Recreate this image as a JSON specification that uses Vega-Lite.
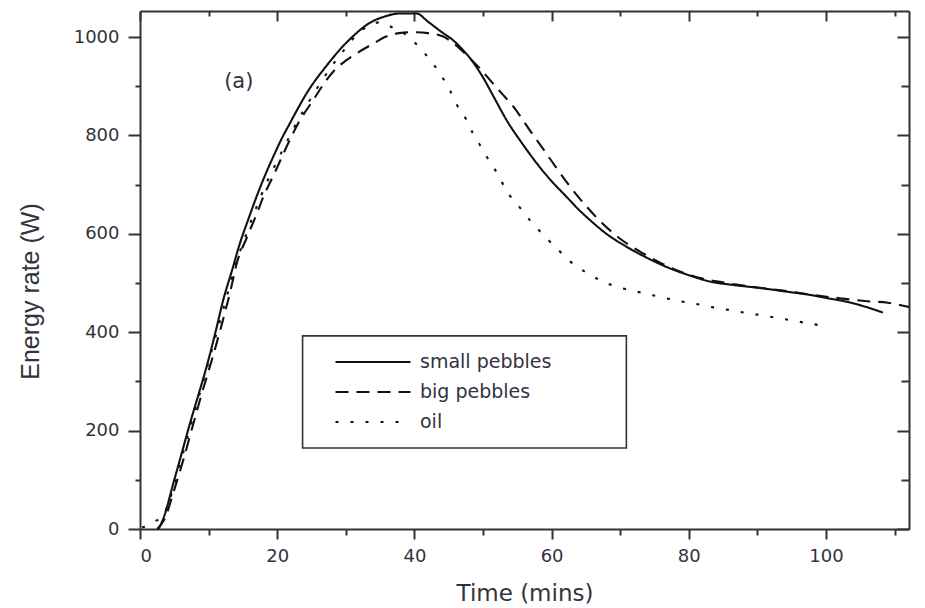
{
  "$schema": "https://vega.github.io/schema/vega-lite/v6.json",
  "width": 769,
  "height": 518,
  "autosize": {"type": "none"},
  "padding": {"left": 140, "top": 11, "right": 16, "bottom": 79},
  "background": "white",
  "config": {
    "view": {"stroke": null},
    "axis": {
      "grid": false,
      "domainColor": "#333333",
      "domainWidth": 2,
      "tickColor": "#333333",
      "tickWidth": 2,
      "labelColor": "#333340",
      "labelFont": "DejaVu Sans",
      "labelFontSize": 18,
      "titleColor": "#333340",
      "titleFontWeight": "normal"
    }
  },
  "datasets": {
    "curves": [
      {"series": "small pebbles", "time": 2.7, "energy": 0},
      {"series": "small pebbles", "time": 3.5, "energy": 25},
      {"series": "small pebbles", "time": 4.86, "energy": 93},
      {"series": "small pebbles", "time": 6, "energy": 150},
      {"series": "small pebbles", "time": 7.29, "energy": 215},
      {"series": "small pebbles", "time": 8.5, "energy": 272},
      {"series": "small pebbles", "time": 9.71, "energy": 330},
      {"series": "small pebbles", "time": 11, "energy": 400},
      {"series": "small pebbles", "time": 12.14, "energy": 466},
      {"series": "small pebbles", "time": 13.4, "energy": 525},
      {"series": "small pebbles", "time": 14.57, "energy": 581},
      {"series": "small pebbles", "time": 15.8, "energy": 630},
      {"series": "small pebbles", "time": 17, "energy": 676},
      {"series": "small pebbles", "time": 18.2, "energy": 718},
      {"series": "small pebbles", "time": 19.43, "energy": 757},
      {"series": "small pebbles", "time": 20.6, "energy": 792},
      {"series": "small pebbles", "time": 21.86, "energy": 825},
      {"series": "small pebbles", "time": 23.1, "energy": 857},
      {"series": "small pebbles", "time": 24.3, "energy": 886},
      {"series": "small pebbles", "time": 25.5, "energy": 911},
      {"series": "small pebbles", "time": 26.7, "energy": 933},
      {"series": "small pebbles", "time": 27.9, "energy": 954},
      {"series": "small pebbles", "time": 29.1, "energy": 974},
      {"series": "small pebbles", "time": 31, "energy": 1001},
      {"series": "small pebbles", "time": 33.5, "energy": 1029},
      {"series": "small pebbles", "time": 35.5, "energy": 1041},
      {"series": "small pebbles", "time": 37.9, "energy": 1048},
      {"series": "small pebbles", "time": 40.3, "energy": 1048},
      {"series": "small pebbles", "time": 42, "energy": 1031},
      {"series": "small pebbles", "time": 44, "energy": 1010},
      {"series": "small pebbles", "time": 45.6, "energy": 994},
      {"series": "small pebbles", "time": 47, "energy": 975},
      {"series": "small pebbles", "time": 48.5, "energy": 950},
      {"series": "small pebbles", "time": 50, "energy": 918},
      {"series": "small pebbles", "time": 51.7, "energy": 875},
      {"series": "small pebbles", "time": 53.4, "energy": 832},
      {"series": "small pebbles", "time": 55.6, "energy": 786},
      {"series": "small pebbles", "time": 57.8, "energy": 744},
      {"series": "small pebbles", "time": 60, "energy": 707},
      {"series": "small pebbles", "time": 62.2, "energy": 675},
      {"series": "small pebbles", "time": 63.9, "energy": 650},
      {"series": "small pebbles", "time": 65.6, "energy": 628},
      {"series": "small pebbles", "time": 68, "energy": 600},
      {"series": "small pebbles", "time": 70.9, "energy": 574},
      {"series": "small pebbles", "time": 73.8, "energy": 552},
      {"series": "small pebbles", "time": 76.7, "energy": 533},
      {"series": "small pebbles", "time": 80, "energy": 516},
      {"series": "small pebbles", "time": 83.1, "energy": 503},
      {"series": "small pebbles", "time": 86.5, "energy": 496},
      {"series": "small pebbles", "time": 90.3, "energy": 490},
      {"series": "small pebbles", "time": 94, "energy": 483},
      {"series": "small pebbles", "time": 97.6, "energy": 476},
      {"series": "small pebbles", "time": 100.3, "energy": 469},
      {"series": "small pebbles", "time": 103, "energy": 462},
      {"series": "small pebbles", "time": 105.7, "energy": 452},
      {"series": "small pebbles", "time": 108.3, "energy": 440},
      {"series": "big pebbles", "time": 2.5, "energy": 0},
      {"series": "big pebbles", "time": 3.5, "energy": 18},
      {"series": "big pebbles", "time": 5, "energy": 80},
      {"series": "big pebbles", "time": 6.3, "energy": 140},
      {"series": "big pebbles", "time": 7.5, "energy": 200},
      {"series": "big pebbles", "time": 9, "energy": 275},
      {"series": "big pebbles", "time": 10.5, "energy": 345},
      {"series": "big pebbles", "time": 12, "energy": 420},
      {"series": "big pebbles", "time": 13.2, "energy": 485},
      {"series": "big pebbles", "time": 14.1, "energy": 540},
      {"series": "big pebbles", "time": 15.5, "energy": 590},
      {"series": "big pebbles", "time": 17, "energy": 640},
      {"series": "big pebbles", "time": 18, "energy": 676},
      {"series": "big pebbles", "time": 19.5, "energy": 720},
      {"series": "big pebbles", "time": 21.4, "energy": 778},
      {"series": "big pebbles", "time": 23.2, "energy": 828},
      {"series": "big pebbles", "time": 25.25, "energy": 872},
      {"series": "big pebbles", "time": 27.2, "energy": 913},
      {"series": "big pebbles", "time": 28.5, "energy": 935},
      {"series": "big pebbles", "time": 30, "energy": 952},
      {"series": "big pebbles", "time": 31.6, "energy": 967},
      {"series": "big pebbles", "time": 33.8, "energy": 985},
      {"series": "big pebbles", "time": 35.9, "energy": 1001},
      {"series": "big pebbles", "time": 37.8, "energy": 1008},
      {"series": "big pebbles", "time": 39.8, "energy": 1010},
      {"series": "big pebbles", "time": 42, "energy": 1008},
      {"series": "big pebbles", "time": 44.2, "energy": 1001},
      {"series": "big pebbles", "time": 46, "energy": 984},
      {"series": "big pebbles", "time": 48, "energy": 958},
      {"series": "big pebbles", "time": 49.5, "energy": 937},
      {"series": "big pebbles", "time": 51, "energy": 913},
      {"series": "big pebbles", "time": 52.7, "energy": 886},
      {"series": "big pebbles", "time": 54.4, "energy": 859},
      {"series": "big pebbles", "time": 56.8, "energy": 811},
      {"series": "big pebbles", "time": 58.5, "energy": 778},
      {"series": "big pebbles", "time": 60.2, "energy": 744},
      {"series": "big pebbles", "time": 62.7, "energy": 696},
      {"series": "big pebbles", "time": 65, "energy": 657},
      {"series": "big pebbles", "time": 67.5, "energy": 620},
      {"series": "big pebbles", "time": 70, "energy": 590},
      {"series": "big pebbles", "time": 73, "energy": 563},
      {"series": "big pebbles", "time": 76, "energy": 540},
      {"series": "big pebbles", "time": 79, "energy": 522},
      {"series": "big pebbles", "time": 82, "energy": 509},
      {"series": "big pebbles", "time": 86, "energy": 499},
      {"series": "big pebbles", "time": 90, "energy": 491},
      {"series": "big pebbles", "time": 94, "energy": 484},
      {"series": "big pebbles", "time": 98, "energy": 476},
      {"series": "big pebbles", "time": 102, "energy": 469},
      {"series": "big pebbles", "time": 106, "energy": 463},
      {"series": "big pebbles", "time": 109, "energy": 460},
      {"series": "big pebbles", "time": 112.1, "energy": 451},
      {"series": "oil", "time": 0.3, "energy": 3},
      {"series": "oil", "time": 1.2, "energy": 8},
      {"series": "oil", "time": 2.2, "energy": 16},
      {"series": "oil", "time": 3.2, "energy": 24},
      {"series": "oil", "time": 4.2, "energy": 55},
      {"series": "oil", "time": 5, "energy": 90},
      {"series": "oil", "time": 6.5, "energy": 165},
      {"series": "oil", "time": 8, "energy": 240},
      {"series": "oil", "time": 9.5, "energy": 315},
      {"series": "oil", "time": 11, "energy": 390},
      {"series": "oil", "time": 12.5, "energy": 465},
      {"series": "oil", "time": 14, "energy": 540},
      {"series": "oil", "time": 15.5, "energy": 600},
      {"series": "oil", "time": 17, "energy": 655},
      {"series": "oil", "time": 18.5, "energy": 705},
      {"series": "oil", "time": 20, "energy": 748},
      {"series": "oil", "time": 21.5, "energy": 790},
      {"series": "oil", "time": 23, "energy": 830},
      {"series": "oil", "time": 24.5, "energy": 866},
      {"series": "oil", "time": 26, "energy": 900},
      {"series": "oil", "time": 27.9, "energy": 940},
      {"series": "oil", "time": 29.6, "energy": 971},
      {"series": "oil", "time": 31.5, "energy": 1003},
      {"series": "oil", "time": 33.5, "energy": 1025},
      {"series": "oil", "time": 35, "energy": 1030},
      {"series": "oil", "time": 36.4, "energy": 1022},
      {"series": "oil", "time": 38.3, "energy": 1009},
      {"series": "oil", "time": 39.6, "energy": 995},
      {"series": "oil", "time": 40.8, "energy": 978},
      {"series": "oil", "time": 42.5, "energy": 950},
      {"series": "oil", "time": 44, "energy": 920},
      {"series": "oil", "time": 45.2, "energy": 891},
      {"series": "oil", "time": 46.2, "energy": 862},
      {"series": "oil", "time": 47.5, "energy": 834},
      {"series": "oil", "time": 48.5, "energy": 805},
      {"series": "oil", "time": 49.8, "energy": 775},
      {"series": "oil", "time": 51, "energy": 746},
      {"series": "oil", "time": 52.3, "energy": 718},
      {"series": "oil", "time": 53.4, "energy": 688},
      {"series": "oil", "time": 55, "energy": 660},
      {"series": "oil", "time": 57, "energy": 625},
      {"series": "oil", "time": 59, "energy": 595},
      {"series": "oil", "time": 61, "energy": 567},
      {"series": "oil", "time": 62.7, "energy": 544},
      {"series": "oil", "time": 65.1, "energy": 521},
      {"series": "oil", "time": 67.5, "energy": 503},
      {"series": "oil", "time": 70.1, "energy": 490},
      {"series": "oil", "time": 72.6, "energy": 482},
      {"series": "oil", "time": 75.1, "energy": 474},
      {"series": "oil", "time": 77, "energy": 468},
      {"series": "oil", "time": 78.3, "energy": 464},
      {"series": "oil", "time": 80.9, "energy": 458},
      {"series": "oil", "time": 83.4, "energy": 451},
      {"series": "oil", "time": 86, "energy": 445},
      {"series": "oil", "time": 88.5, "energy": 439},
      {"series": "oil", "time": 90.8, "energy": 434},
      {"series": "oil", "time": 93.3, "energy": 428},
      {"series": "oil", "time": 96.2, "energy": 421},
      {"series": "oil", "time": 99.6, "energy": 413}
    ]
  },
  "layer": [
    {
      "data": {"values": [{"box": "legend"}]},
      "mark": {"type": "rect", "fill": "white", "stroke": "#333333", "strokeWidth": 1.6},
      "encoding": {
        "x": {"datum": 23.7, "type": "quantitative", "axis": null, "scale": {"domain": [0, 112.1], "nice": false, "zero": false}},
        "x2": {"datum": 70.9},
        "y": {"datum": 392.5, "type": "quantitative", "axis": null, "scale": {"domain": [0, 1053], "nice": false}},
        "y2": {"datum": 164.6}
      }
    },
    {
      "data": {"name": "curves"},
      "mark": {"type": "line", "interpolate": "monotone", "strokeWidth": 2.1, "color": "#111111"},
      "encoding": {
        "x": {
          "field": "time",
          "type": "quantitative",
          "scale": {"domain": [0, 112.1], "nice": false, "zero": false},
          "axis": {
            "orient": "bottom",
            "values": [0, 10, 20, 30, 40, 50, 60, 70, 80, 90, 100, 110],
            "labelExpr": "datum.value % 20 === 0 ? datum.label : ''",
            "format": "d",
            "tickSize": {"condition": {"test": "datum.value % 20 === 0", "value": 10}, "value": 6},
            "labelPadding": 8,
            "title": "Time (mins)",
            "titleFont": "DejaVu Sans",
            "titleFontSize": 23,
            "titleBaseline": "middle",
            "titleY": 64
          }
        },
        "y": {
          "field": "energy",
          "type": "quantitative",
          "scale": {"domain": [0, 1053], "nice": false},
          "axis": {
            "orient": "left",
            "values": [0, 100, 200, 300, 400, 500, 600, 700, 800, 900, 1000],
            "labelExpr": "datum.value % 200 === 0 ? datum.label : ''",
            "format": "d",
            "tickSize": {"condition": {"test": "datum.value % 200 === 0", "value": 12}, "value": 5},
            "labelPadding": 9,
            "title": "Energy rate (W)",
            "titleFont": "Liberation Sans",
            "titleFontSize": 25,
            "titleBaseline": "middle",
            "titleX": -110,
            "titleY": 280
          }
        },
        "strokeDash": {
          "field": "series",
          "type": "nominal",
          "scale": {"domain": ["small pebbles", "big pebbles", "oil"], "range": [[1, 0], [13, 8], [3, 12]]},
          "legend": {
            "title": null,
            "orient": "none",
            "legendX": 194,
            "legendY": 336,
            "padding": 0,
            "clipHeight": 30,
            "rowPadding": 0,
            "symbolType": "stroke",
            "symbolSize": 5625,
            "symbolStrokeWidth": 2.1,
            "symbolStrokeColor": "#111111",
            "symbolOffset": 0,
            "labelFont": "DejaVu Sans",
            "labelFontSize": 19,
            "labelColor": "#333340",
            "labelOffset": 8,
            "labelLimit": 400
          }
        }
      }
    },
    {
      "data": {"values": [{"label": "(a)"}]},
      "mark": {"type": "text", "font": "DejaVu Sans", "fontSize": 21, "color": "#333340"},
      "encoding": {
        "x": {
          "datum": 14.4,
          "type": "quantitative",
          "scale": {"domain": [0, 112.1], "nice": false, "zero": false},
          "axis": {
            "orient": "top",
            "values": [0, 10, 20, 30, 40, 50, 60, 70, 80, 90, 100, 110],
            "labels": false,
            "title": null,
            "tickSize": {"condition": {"test": "datum.value % 20 === 0", "value": -10}, "value": -5}
          }
        },
        "y": {
          "datum": 909,
          "type": "quantitative",
          "scale": {"domain": [0, 1053], "nice": false},
          "axis": {
            "orient": "right",
            "values": [0, 100, 200, 300, 400, 500, 600, 700, 800, 900, 1000],
            "labels": false,
            "title": null,
            "tickSize": {"condition": {"test": "datum.value % 200 === 0", "value": -12}, "value": -8}
          }
        },
        "text": {"field": "label", "type": "nominal"}
      }
    }
  ],
  "resolve": {"axis": {"x": "independent", "y": "independent"}}
}
